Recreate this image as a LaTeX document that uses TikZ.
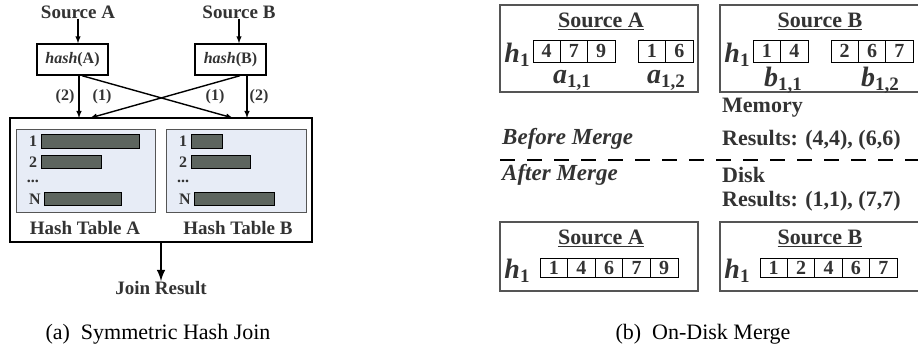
\documentclass[tikz,border=0pt]{standalone}
\usepackage{fontspec}
\setmainfont{Liberation Serif}
\usepackage{tikz}
\usetikzlibrary{arrows}
\usetikzlibrary{positioning}

\definecolor{inkgray}{HTML}{333333}
\definecolor{bargray}{HTML}{5D655F}
\definecolor{panelblue}{HTML}{E7ECF6}
\definecolor{boxgray}{HTML}{555555}

% italic bold letter with a bold subscript
\newcommand{\subvar}[2]{{\fontsize{28}{28}\selectfont\bfseries\itshape #1}\raisebox{-4pt}{\fontsize{19}{19}\selectfont\bfseries #2}}

\tikzset{
  lbl/.style={text=inkgray, inner sep=0pt, font=\fontsize{19}{19}\selectfont\bfseries},
  small/.style={text=inkgray, inner sep=0pt, font=\fontsize{16}{16}\selectfont\bfseries},
  big/.style={text=inkgray, inner sep=0pt, font=\fontsize{22}{22}\selectfont\bfseries},
  bigit/.style={text=inkgray, inner sep=0pt, font=\fontsize{23}{23}\selectfont\bfseries\itshape},
  hashbox/.style={draw, line width=1.4pt, minimum width=71, minimum height=31, inner sep=0pt,
                  text=inkgray, font=\fontsize{16}{16}\selectfont\bfseries},
  panel/.style={draw=boxgray, fill=panelblue, line width=1pt, anchor=north west, inner sep=0pt},
  bar/.style={draw, fill=bargray, line width=0.8pt, minimum height=13.5, anchor=west, inner sep=0pt},
  srcbox/.style={draw=boxgray, line width=1.2pt, inner sep=0pt},
  cell/.style={draw, line width=0.8pt, minimum width=27.4, minimum height=22, inner sep=0pt,
               text=inkgray, font=\fontsize{20}{20}\selectfont\bfseries},
  arr/.style={->, line width=1.4pt},
  capt/.style={inner sep=0pt, font=\fontsize{22}{22}\selectfont}
}

\begin{document}
\begin{tikzpicture}[x=1pt, y=-1pt, >=latex]
  \useasboundingbox (0,0) rectangle (918,358);

  % (a) symmetric hash join
  \node[lbl] (srcA) at (78, 12) {Source A};
  \node[lbl] (srcB) at (239, 12) {Source B};
  \node[hashbox] (hashA) at (72.5, 59.5) {\textit{hash}(A)};
  \node[hashbox] (hashB) at (230.5, 59.5) {\textit{hash}(B)};
  \draw[arr] (srcA.south) -- (srcA.south |- hashA.north);
  \draw[arr] (srcB.south) -- (srcB.south |- hashB.north);

  \node[draw, line width=1.4pt, minimum width=302, minimum height=124, inner sep=0pt] (joinbox) at (161, 180) {};
  \coordinate (inA2) at (79, 118);
  \coordinate (inA1) at (90, 118);
  \coordinate (inB1) at (233, 118);
  \coordinate (inB2) at (247, 118);
  \draw[arr] (hashA.south -| inA2) -- (inA2);
  \draw[arr] ([xshift=9.5]hashA.south) -- (inB1);
  \draw[arr] ([xshift=9.5]hashB.south) -- (inA1);
  \draw[arr] (hashB.south -| inB2) -- (inB2);
  \node[small] (lA2) at (65, 97) {(2)};
  \node[small] (lA1) at (102, 97) {(1)};
  \node[small] (lB1) at (215, 97) {(1)};
  \node[small] (lB2) at (259, 97) {(2)};

  \node[panel, minimum width=139, minimum height=83] (tabA) at (16, 129) {};
  \node[panel, minimum width=140, minimum height=83] (tabB) at (166, 129) {};

  \node[bar, minimum width=98] (barA1) at (41, 141.5) {};
  \node[bar, minimum width=60] (barA2) at (41, 162) {};
  \node[bar, minimum width=77] (barAN) at (44, 199) {};
  \node[small] (rowA1) at (33, 141.5) {1};
  \node[small] (rowA2) at (33, 162) {2};
  \node[small] (rowAd) at (33, 181) {...};
  \node[small] (rowAN) at (35, 199) {N};

  \node[bar, minimum width=31] (barB1) at (191, 141.5) {};
  \node[bar, minimum width=59] (barB2) at (191, 162) {};
  \node[bar, minimum width=80] (barBN) at (194, 199) {};
  \node[small] (rowB1) at (183, 141.5) {1};
  \node[small] (rowB2) at (183, 162) {2};
  \node[small] (rowBd) at (183, 181) {...};
  \node[small] (rowBN) at (185, 199) {N};

  \node[lbl] (nameA) at (85, 228) {Hash Table A};
  \node[lbl] (nameB) at (238, 228) {Hash Table B};

  \node[lbl] (result) at (161, 288) {Join Result};
  \draw[->, line width=2.8pt] (joinbox.south) -- (result.north);

  \node[capt] (capA) at (158, 334) {(a)\ \ Symmetric Hash Join};

  % (b) on-disk merge, before merge
  \node[srcbox, minimum width=198, minimum height=87] (memA) at (599, 48.5) {};
  \node[big] (memAt) at (601, 21) {\underline{Source A}};
  \node[inner sep=0pt, text=inkgray] (memAh) at (517, 55) {\subvar{h}{1}};
  \foreach \v [count=\i] in {4,7,9}
    \node[cell] (ma\i) at (519.3+27.3*\i, 51) {\v};
  \foreach \v [count=\i] in {1,6}
    \node[cell] (mb\i) at (624.25+27.5*\i, 51) {\v};
  \node[inner sep=0pt, text=inkgray] (a11) at (572, 80) {\subvar{a}{1,1}};
  \node[inner sep=0pt, text=inkgray] (a12) at (666, 80) {\subvar{a}{1,2}};

  \node[srcbox, minimum width=210, minimum height=87] (memB) at (825, 48.5) {};
  \node[big] (memBt) at (820, 21) {\underline{Source B}};
  \node[inner sep=0pt, text=inkgray] (memBh) at (737, 55) {\subvar{h}{1}};
  \foreach \v [count=\i] in {1,4}
    \node[cell] (mc\i) at (739.25+27.5*\i, 51) {\v};
  \foreach \v [count=\i] in {2,6,7}
    \node[cell] (md\i) at (817.4+27.3*\i, 51) {\v};
  \node[inner sep=0pt, text=inkgray] (b11) at (783, 80) {\subvar{b}{1,1}};
  \node[inner sep=0pt, text=inkgray] (b12) at (880, 80) {\subvar{b}{1,2}};

  \node[big, anchor=west] (memory) at (722, 108) {Memory};
  \node[big, anchor=west] (memres) at (722, 140) {Results: (4,4), (6,6)};
  \node[bigit, anchor=west] (before) at (502, 139) {Before Merge};

  \coordinate (cutL) at (500, 160);
  \coordinate (cutR) at (920, 160);
  \draw[line width=2.5pt, dash pattern=on 15pt off 12pt] (cutL) -- (cutR);

  % after merge
  \node[bigit, anchor=west] (after) at (502, 175) {After Merge};
  \node[big, anchor=west] (disk) at (722, 175) {Disk};
  \node[big, anchor=west] (diskres) at (722, 201) {Results: (1,1), (7,7)};

  \node[srcbox, minimum width=198, minimum height=69] (diskA) at (599, 256.5) {};
  \node[big] (diskAt) at (601, 238) {\underline{Source A}};
  \node[inner sep=0pt, text=inkgray] (diskAh) at (517, 271) {\subvar{h}{1}};
  \foreach \v [count=\i] in {1,4,6,7,9}
    \node[cell, minimum width=27.6, minimum height=19] (da\i) at (526.2+27.6*\i, 267.5) {\v};

  \node[srcbox, minimum width=210, minimum height=69] (diskB) at (825, 256.5) {};
  \node[big] (diskBt) at (820, 238) {\underline{Source B}};
  \node[inner sep=0pt, text=inkgray] (diskBh) at (737, 271) {\subvar{h}{1}};
  \foreach \v [count=\i] in {1,2,4,6,7}
    \node[cell, minimum width=27.4, minimum height=19] (db\i) at (746.3+27.4*\i, 267.5) {\v};

  \node[capt] (capB) at (703, 334) {(b)\ \ On-Disk Merge};
\end{tikzpicture}
\end{document}
